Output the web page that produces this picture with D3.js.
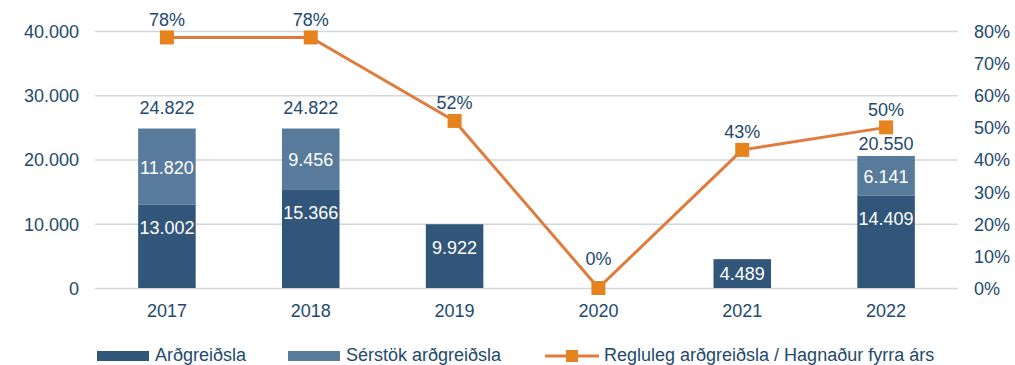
<!DOCTYPE html>
<html>
<head>
<meta charset="utf-8">
<script src="https://cdn.jsdelivr.net/npm/d3@7"></script>
<style>
  html, body { margin: 0; padding: 0; background: #fff; }
  svg { display: block; font-family: "Liberation Sans", Arial, sans-serif; }
</style>
</head>
<body>
<svg id="chart" width="1015" height="365"></svg>
<script>
// Arðgreiðslur 2017–2022 (millj. kr.) og hlutfall af hagnaði fyrra árs
const years = ['2017', '2018', '2019', '2020', '2021', '2022'];
const ardgreidsla = [13002, 15366, 9922, 0, 4489, 14409];
const serstok = [11820, 9456, 0, 0, 0, 6141];
const hlutfall = [0.78, 0.78, 0.52, 0, 0.43, 0.50];
const leftTicks = [0, 10000, 20000, 30000, 40000];
const rightTicks = [0, 0.1, 0.2, 0.3, 0.4, 0.5, 0.6, 0.7, 0.8];
const legendLabels = ['Arðgreiðsla', 'Sérstök arðgreiðsla', 'Regluleg arðgreiðsla / Hagnaður fyrra árs'];

const C = {
  dark: '#32567a',
  light: '#587a9b',
  line: '#e07b3d',
  marker: '#e6831f',
  text: '#23496d',
  grid: '#d0d7df'
};

const loc = d3.formatLocale({ decimal: ',', thousands: '.', grouping: [3], currency: ['', ''] });
const fmtNum = loc.format(',d');
const fmtPct = d3.format('.0%');

const svg = d3.select('#chart');
const plot = { left: 95, right: 958, top: 31, bottom: 288 };

const x = d3.scaleBand().domain(years).range([plot.left, plot.right]).paddingInner(0.6).paddingOuter(0.3);
const y = d3.scaleLinear().domain([0, 40000]).range([plot.bottom, plot.top]);
const y2 = d3.scaleLinear().domain([0, 0.8]).range([plot.bottom, plot.top]);

// Gridlines + left axis
const leftAxis = d3.axisLeft(y).tickValues(leftTicks).tickFormat(fmtNum)
  .tickSize(-(plot.right - plot.left)).tickPadding(16);
const gL = svg.append('g').attr('transform', `translate(${plot.left},0)`).call(leftAxis);
gL.select('.domain').remove();
gL.selectAll('.tick line').attr('stroke', C.grid).attr('stroke-width', 1.3);
gL.selectAll('.tick text').attr('fill', C.text).attr('font-size', 18)
  .attr('font-family', '"Liberation Sans", Arial, sans-serif').attr('dy', '0.36em');

// Right axis
const rightAxis = d3.axisRight(y2).tickValues(rightTicks).tickFormat(fmtPct).tickSize(0).tickPadding(16);
const gR = svg.append('g').attr('transform', `translate(${plot.right},0)`).call(rightAxis);
gR.select('.domain').remove();
gR.selectAll('.tick text').attr('fill', C.text).attr('font-size', 18)
  .attr('font-family', '"Liberation Sans", Arial, sans-serif').attr('dy', '0.36em');

// Bottom axis labels
const bottomAxis = d3.axisBottom(x).tickSize(0).tickPadding(16);
const gB = svg.append('g').attr('transform', `translate(0,${plot.bottom})`).call(bottomAxis);
gB.select('.domain').remove();
gB.selectAll('.tick text').attr('fill', C.text).attr('font-size', 18)
  .attr('font-family', '"Liberation Sans", Arial, sans-serif');

// Stacked bars
const rows = years.map((yr, i) => ({ year: yr, a: ardgreidsla[i], s: serstok[i], p: hlutfall[i] }));
const stack = d3.stack().keys(['a', 's'])(rows);
const colors = { a: C.dark, s: C.light };

stack.forEach(layer => {
  svg.append('g').selectAll('rect')
    .data(layer.filter(d => d[1] - d[0] > 0))
    .join('rect')
    .attr('x', d => x(d.data.year))
    .attr('width', x.bandwidth())
    .attr('y', d => y(d[1]))
    .attr('height', d => y(d[0]) - y(d[1]))
    .attr('fill', colors[layer.key]);
});

// Segment labels
const segLabels = svg.append('g').attr('fill', '#fff').attr('font-size', 18).attr('text-anchor', 'middle');
stack.forEach(layer => {
  segLabels.selectAll(null)
    .data(layer.filter(d => d[1] - d[0] > 0))
    .join('text')
    .attr('x', d => x(d.data.year) + x.bandwidth() / 2)
    .attr('y', d => {
      const top = y(d[1]), h = y(d[0]) - y(d[1]);
      const cy = layer.key === 'a' ? top + Math.min(23, h / 2) : top + h / 2 + 1;
      return cy;
    })
    .attr('dy', '0.36em')
    .text(d => fmtNum(d[1] - d[0]));
});

// Line + markers
const line = d3.line().x(d => x(d.year) + x.bandwidth() / 2).y(d => y2(d.p));
svg.append('path').datum(rows).attr('d', line)
  .attr('fill', 'none').attr('stroke', C.line).attr('stroke-width', 3).attr('stroke-linejoin', 'round');

const mk = 14;
svg.append('g').selectAll('rect').data(rows).join('rect')
  .attr('x', d => x(d.year) + x.bandwidth() / 2 - mk / 2)
  .attr('y', d => y2(d.p) - mk / 2)
  .attr('width', mk).attr('height', mk)
  .attr('fill', C.marker);

// Total labels above stacked bars (kept clear of the line markers)
svg.append('g').attr('fill', C.text).attr('font-size', 18).attr('text-anchor', 'middle')
  .selectAll('text').data(rows.filter(d => d.s > 0)).join('text')
  .attr('x', d => x(d.year) + x.bandwidth() / 2)
  .attr('y', d => {
    const top = y(d.a + d.s);
    const my = y2(d.p);
    let base = top - 15;
    if (my < top && my + mk / 2 + 16 > base) base = my + mk / 2 + 16;
    return base;
  })
  .text(d => fmtNum(d.a + d.s));

// Percentage labels above markers
svg.append('g').attr('fill', C.text).attr('font-size', 18).attr('text-anchor', 'middle')
  .selectAll('text').data(rows).join('text')
  .attr('x', d => x(d.year) + x.bandwidth() / 2)
  .attr('y', (d, i) => {
    const prev = rows[i - 1], next = rows[i + 1];
    const valley = prev && next && prev.p > d.p && next.p > d.p;
    return y2(d.p) - (valley ? 29 : 18);
  })
  .attr('dy', '0.36em')
  .text(d => fmtPct(d.p));

// Legend
const lg = svg.append('g').attr('font-size', 18).attr('fill', C.text);
lg.append('rect').attr('x', 97).attr('y', 351).attr('width', 52).attr('height', 10).attr('fill', C.dark);
lg.append('text').attr('x', 155).attr('y', 361).text(legendLabels[0]);
lg.append('rect').attr('x', 288).attr('y', 351).attr('width', 52).attr('height', 10).attr('fill', C.light);
lg.append('text').attr('x', 346).attr('y', 361).text(legendLabels[1]);
lg.append('line').attr('x1', 545).attr('x2', 599).attr('y1', 356).attr('y2', 356)
  .attr('stroke', C.line).attr('stroke-width', 3);
lg.append('rect').attr('x', 566).attr('y', 350).attr('width', 12).attr('height', 12).attr('fill', C.marker);
lg.append('text').attr('x', 604).attr('y', 361).text(legendLabels[2]);
</script>
</body>
</html>
